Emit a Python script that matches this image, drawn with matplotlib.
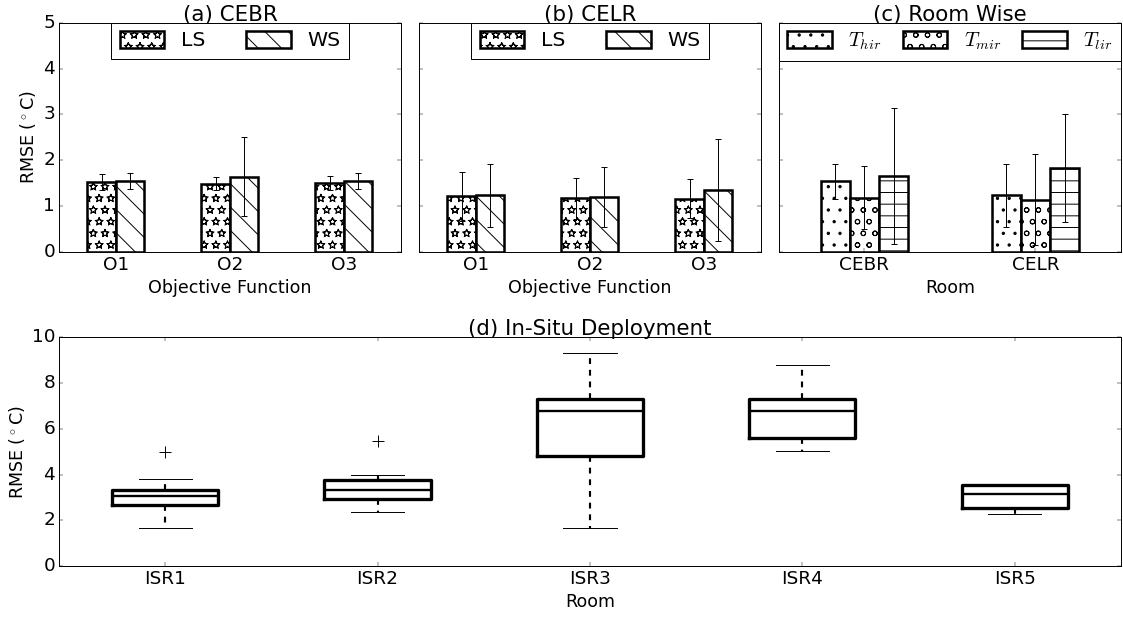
import numpy as np
import matplotlib
matplotlib.use('Agg')
import matplotlib.pyplot as plt
import matplotlib.hatch

plt.style.use('classic')
plt.rcParams['figure.facecolor'] = 'white'
plt.rcParams['savefig.facecolor'] = 'white'
plt.rcParams['hatch.linewidth'] = 1.0
# hollow star hatch
matplotlib.hatch.Stars.filled = False

# objective functions (a), (b)
objectives = ['O1', 'O2', 'O3']
cebr_ls = [1.52, 1.49, 1.50]
cebr_ls_err = [0.18, 0.15, 0.15]
cebr_ws = [1.55, 1.64, 1.55]
cebr_ws_err = [0.18, 0.86, 0.18]
celr_ls = [1.21, 1.17, 1.16]
celr_ls_err = [0.54, 0.45, 0.42]
celr_ws = [1.23, 1.20, 1.35]
celr_ws_err = [0.68, 0.66, 1.11]

# room wise (c)
rooms = ['CEBR', 'CELR']
t_hir = [1.54, 1.23]
t_hir_err = [0.38, 0.68]
t_mir = [1.18, 1.14]
t_mir_err = [0.69, 1.00]
t_lir = [1.65, 1.82]
t_lir_err = [1.49, 1.18]

# in-situ deployment (d)
isr_rooms = ['ISR1', 'ISR2', 'ISR3', 'ISR4', 'ISR5']
isr_q1 = [2.66, 2.93, 4.82, 5.60, 2.55]
isr_med = [3.08, 3.31, 6.76, 6.77, 3.14]
isr_q3 = [3.35, 3.75, 7.29, 7.29, 3.57]
isr_lo = [1.65, 2.38, 1.65, 5.02, 2.29]
isr_hi = [3.82, 3.99, 9.29, 8.77, 3.57]
isr_fliers = [[5.0], [5.49], [], [], []]

dpi = 70
fig = plt.figure(figsize=(1123 / dpi, 617 / dpi), dpi=dpi)
gs = fig.add_gridspec(2, 3, left=0.0525, right=0.9982, top=0.9632, bottom=0.0822,
                      wspace=0.0526, hspace=0.373)
ax_a = fig.add_subplot(gs[0, 0])
ax_b = fig.add_subplot(gs[0, 1])
ax_c = fig.add_subplot(gs[0, 2])
ax_d = fig.add_subplot(gs[1, :])

FS = 19
TITLE_FS = 22
LABEL_FS = 18
LEG_FS = 21
bar_kw = dict(color='white', edgecolor='k', linewidth=2.6)
err_kw = dict(ecolor='k', elinewidth=1.0, capsize=3.5, capthick=1.0)
leg_kw = dict(fontsize=LEG_FS, borderaxespad=0, handlelength=2.2, handleheight=0.9)


def objective_panel(ax, ls, ls_err, ws, ws_err, title):
    x = np.arange(len(objectives))
    w = 0.25
    ax.bar(x - w / 2, ls, w, yerr=ls_err, hatch='*', label='LS', error_kw=err_kw, **bar_kw)
    ax.bar(x + w / 2, ws, w, yerr=ws_err, hatch='\\', label='WS', error_kw=err_kw, **bar_kw)
    ax.set_xticks(x)
    ax.set_xticklabels(objectives)
    ax.set_xlim(-0.5, 2.5)
    ax.set_xlabel('Objective Function', fontsize=LABEL_FS)
    ax.set_title(title, fontsize=TITLE_FS, pad=2)
    ax.legend(loc='upper center', ncol=2, columnspacing=2.0, **leg_kw)


objective_panel(ax_a, cebr_ls, cebr_ls_err, cebr_ws, cebr_ws_err, '(a) CEBR')
objective_panel(ax_b, celr_ls, celr_ls_err, celr_ws, celr_ws_err, '(b) CELR')

x = np.arange(len(rooms))
w = 0.17
ax_c.bar(x - w, t_hir, w, yerr=t_hir_err, hatch='.', label='$T_{hir}$', error_kw=err_kw, **bar_kw)
ax_c.bar(x, t_mir, w, yerr=t_mir_err, hatch='o', label='$T_{mir}$', error_kw=err_kw, **bar_kw)
ax_c.bar(x + w, t_lir, w, yerr=t_lir_err, hatch='-', label='$T_{lir}$', error_kw=err_kw, **bar_kw)
ax_c.set_xticks(x)
ax_c.set_xticklabels(rooms)
ax_c.set_xlim(-0.5, 1.5)
ax_c.set_xlabel('Room', fontsize=LABEL_FS)
ax_c.set_title('(c) Room Wise', fontsize=TITLE_FS, pad=2)
ax_c.legend(loc='upper left', bbox_to_anchor=(0, 0, 1, 1), mode='expand', ncol=3, **leg_kw)

for ax in (ax_a, ax_b, ax_c):
    ax.set_ylim(0, 5)
    ax.set_yticks(range(6))
    ax.tick_params(labelsize=FS)
ax_a.set_ylabel('RMSE ($^\\circ$C)', fontsize=LABEL_FS)
ax_b.set_yticklabels([])
ax_c.set_yticklabels([])

stats = []
for i, name in enumerate(isr_rooms):
    stats.append(dict(label=name, q1=isr_q1[i], med=isr_med[i], q3=isr_q3[i],
                      whislo=isr_lo[i], whishi=isr_hi[i], fliers=isr_fliers[i]))
ax_d.bxp(stats, widths=0.5,
         boxprops=dict(color='k', linewidth=3.4),
         medianprops=dict(color='k', linewidth=2.4),
         whiskerprops=dict(color='k', linewidth=2.2, linestyle='--'),
         capprops=dict(color='k', linewidth=1.0),
         flierprops=dict(marker='+', markersize=13, markeredgecolor='k', markeredgewidth=1.0))
ax_d.set_xlim(0.5, 5.5)
ax_d.set_ylim(0, 10)
ax_d.set_yticks(range(0, 11, 2))
ax_d.tick_params(labelsize=FS)
ax_d.set_xlabel('Room', fontsize=LABEL_FS)
ax_d.set_ylabel('RMSE ($^\\circ$C)', fontsize=LABEL_FS)
ax_d.set_title('(d) In-Situ Deployment', fontsize=TITLE_FS, pad=2)

fig.savefig('out.png', dpi=dpi)
